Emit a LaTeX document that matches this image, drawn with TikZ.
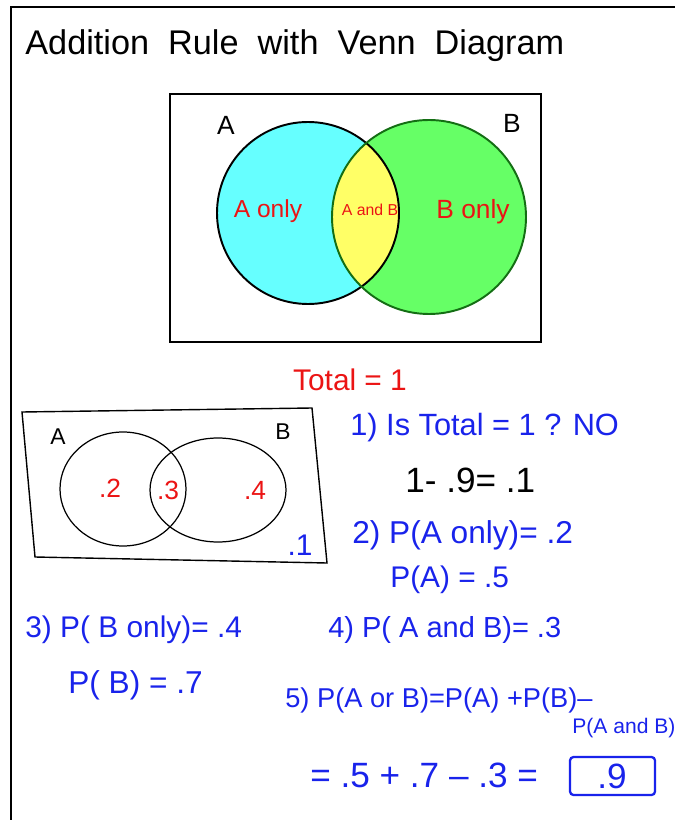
\documentclass[tikz,border=0pt]{standalone}
\usepackage{fontspec}
\setmainfont{Liberation Sans}
\definecolor{penblue}{RGB}{25,35,235}
\definecolor{penred}{RGB}{235,20,20}
\definecolor{fillA}{RGB}{102,255,255}
\definecolor{fillB}{RGB}{102,255,102}
\definecolor{fillAB}{RGB}{255,255,102}
\definecolor{rimB}{RGB}{20,110,20}
\newcommand{\fs}[1]{\fontsize{#1}{#1}\selectfont}
\begin{document}
\begin{tikzpicture}[x=0.02cm, y=-0.02cm,
  bluetxt/.style={text=penblue, anchor=west, inner sep=0pt},
  redtxt/.style={text=penred, inner sep=0pt},
  inktxt/.style={text=black, inner sep=0pt}]
\useasboundingbox (0,0) rectangle (675,820);

% Page frame
\draw[line width=1.6pt] (11,820) -- (11,7) -- (675,7);
\node[inktxt, anchor=west] (title) at (25,46) {\fs{19.5}Addition\ \ Rule\ \ with\ \ Venn\ \ Diagram};

% Shaded Venn diagram
\draw[line width=1.4pt] (170,94) rectangle (541,342);
\coordinate (cA) at (308,213);
\coordinate (cB) at (429,217);
\fill[fillA] (cA) circle[radius=91];
\fill[fillB] (cB) circle[radius=97];
\begin{scope}
  \clip (cA) circle[radius=91];
  \fill[fillAB] (cB) circle[radius=97];
\end{scope}
\draw[line width=1.1pt] (cA) circle[radius=91];
\draw[line width=1.1pt, rimB] (cB) circle[radius=97];
\node[inktxt] (labA) at (226,125) {\fs{15}A};
\node[inktxt] (labB) at (512,123) {\fs{15}B};
\node[redtxt] (aonly) at (268,211) {\fs{14}A only};
\node[redtxt] (aandb) at (370,210) {\fs{9}A and B};
\node[redtxt] (bonly) at (473,212) {\fs{15}B only};

\node[redtxt] (total) at (350,380) {\fs{17}Total = 1};

% Venn diagram with values
\draw[line width=0.8pt] (22,412) -- (312,408) -- (327,563) -- (35,557) -- cycle;
\draw[line width=0.7pt] (123,489) ellipse[x radius=63, y radius=57];
\draw[line width=0.7pt] (218,490) ellipse[x radius=68, y radius=52];
\node[inktxt] (sA) at (58,437) {\fs{13}A};
\node[inktxt] (sB) at (283,432) {\fs{13}B};
\node[redtxt] (vAonly) at (110,488) {\fs{15}.2};
\node[redtxt] (vAB) at (168,490) {\fs{15}.3};
\node[redtxt] (vBonly) at (255,490) {\fs{15}.4};
\node[redtxt, text=penblue] (vout) at (300,545) {\fs{17}.1};

% Steps
\node[bluetxt] (s1) at (350,428) {\fs{17.5}1) Is Total = 1 ? NO};
\node[inktxt, anchor=west] (s1b) at (405,480) {\fs{20}1- .9= .1};
\node[bluetxt] (s2) at (352,535) {\fs{18}2) P(A only)= .2};
\node[bluetxt] (s2b) at (390,580) {\fs{17}P(A) = .5};
\node[bluetxt] (s3) at (25,630) {\fs{17}3) P( B only)= .4};
\node[bluetxt] (s3b) at (68,685) {\fs{18}P( B) = .7};
\node[bluetxt] (s4) at (328,630) {\fs{16.5}4) P( A and B)= .3};
\node[bluetxt] (s5) at (285,700) {\fs{15.5}5) P(A or B)=P(A) +P(B)–};
\node[bluetxt] (s5b) at (572,728) {\fs{12}P(A and B)};
\node[bluetxt] (s5c) at (310,775) {\fs{20}= .5 + .7 – .3 =};
\node[redtxt, text=penblue] (res) at (612,776) {\fs{20}.9};
\draw[penblue, line width=1.3pt, rounded corners=2pt] (570,757) rectangle (655,795);
\end{tikzpicture}
\end{document}
